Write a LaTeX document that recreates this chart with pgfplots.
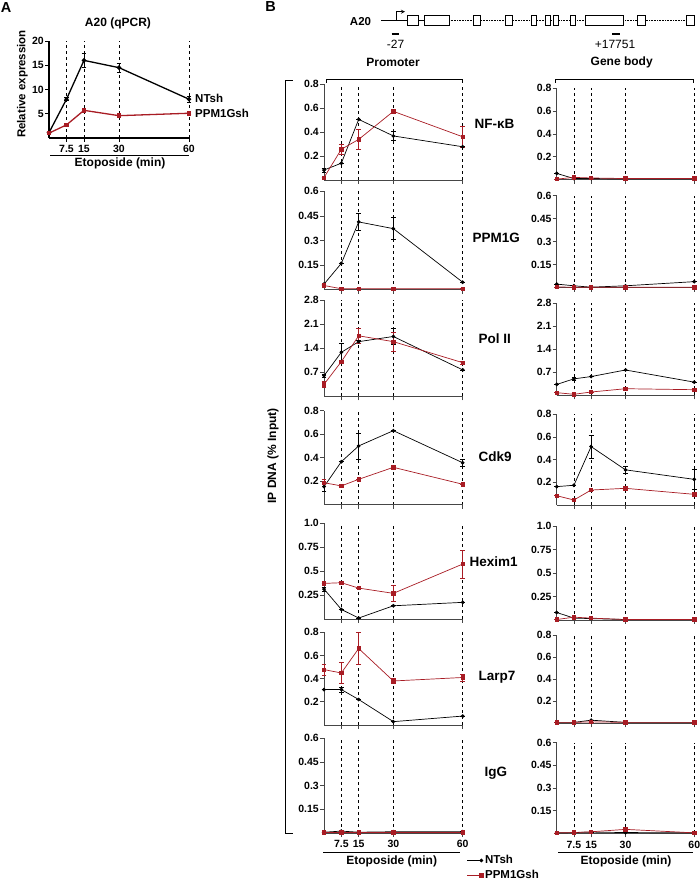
\documentclass[border=0pt]{standalone}
\usepackage{pgfplots}
\pgfplotsset{compat=1.18}
\usepackage{fontspec}
\setmainfont{Liberation Sans}
\definecolor{myred}{RGB}{168,28,36}
\definecolor{axgray}{RGB}{70,70,70}
\newcommand{\fs}[1]{\fontsize{#1}{#1}\selectfont}
\pgfplotsset{
  base/.style={
    scale only axis, clip=false,
    axis lines=left, axis line style={-, line width=0.9pt, axgray},
    xmin=0, xmax=60, ymin=0,
    xtick={7.5,15,30,60},
    tick align=outside, major tick length=4pt,
    tick style={line width=0.7pt, axgray},
    xmajorgrids, major x grid style={dashed, black, line width=0.45pt},
    /pgf/number format/assume math mode=true,
    tick label style={font=\fs{10.5}\bfseries},
    yticklabel style={inner sep=1pt},
    xticklabels={},
  },
  bk/.style={black, line width=0.7pt, mark=*, mark size=1.5pt,
    error bars/y dir=both, error bars/y explicit,
    error bars/error bar style={line width=0.6pt, solid},
    error bars/error mark options={rotate=90, mark size=2.4pt, line width=0.6pt}},
  rd/.style={myred, line width=0.7pt, mark=square*, mark size=1.7pt,
    error bars/y dir=both, error bars/y explicit,
    error bars/error bar style={line width=0.6pt, solid},
    error bars/error mark options={rotate=90, mark size=2.4pt, line width=0.6pt}},
}
\begin{document}
\begin{tikzpicture}[x=1pt,y=1pt]
\path[use as bounding box] (0,0) rectangle (700,882);

% ---------------- Panel A ----------------
\begin{axis}[base, at={(49pt,744pt)}, anchor=south west, width=140pt, height=97pt,
  ymax=20, ytick={5,10,15,20}, xticklabels={7.5,15,30,60},
  axis line style={-, line width=1.1pt, black}, tick style={line width=0.9pt, black}]
\addplot[bk, line width=1.3pt] table[x index=0, y index=1, y error index=2] {
0 1.1 0.2
7.5 8.0 0.3
15 16.0 1.5
30 14.5 0.9
60 8.0 0.6
};
\addplot[rd, line width=1.3pt] table[x index=0, y index=1, y error index=2] {
0 1.0 0.1
7.5 2.7 0.1
15 5.7 0.2
30 4.6 0.2
60 5.1 0.2
};
\end{axis}
\node[font=\fs{14.5}\bfseries] at (6,874) {A};
\node[font=\fs{12}\bfseries] at (118,859) {A20 (qPCR)};
\node[font=\fs{11.5}\bfseries, rotate=90] at (22.5,798) {Relative expression};
\node[font=\fs{11.5}\bfseries, anchor=west, inner sep=0] at (195,784) {NTsh};
\node[font=\fs{11.5}\bfseries, anchor=west, inner sep=0] at (195,769) {PPM1Gsh};
\draw[line width=0.9pt] (50,727) -- (189,727);
\node[font=\fs{12}\bfseries] at (120,718.7) {Etoposide (min)};

% ---------------- Panel B schematic ----------------
\node[font=\fs{14.5}\bfseries] at (270.5,875) {B};
\node[font=\fs{11.5}\bfseries] at (360.5,860.6) {A20};
\draw[line width=0.8pt] (381,861.3) -- (407.7,861.3);
\draw[line width=0.8pt] (418.3,861.3) -- (424.3,861.3);
\draw[line width=0.6pt, densely dotted] (449,861.3) -- (686.7,861.3);
\foreach \a/\b in {407.7/418.3, 424.3/449, 473.3/480.7, 505/512.7, 531/536, 545/550, 553.3/558.3, 570.7/575, 585/623.3, 637.3/645, 686.7/694}
  \draw[line width=0.7pt, fill=white] (\a,856.3) rectangle (\b,866.3);
\draw[line width=0.8pt, -stealth] (396.7,861.3) -- (396.7,870.3) -- (405,870.3);
\draw[line width=2.2pt] (391.7,847.7) -- (399.3,847.7);
\draw[line width=2.2pt] (612,847.7) -- (620,847.7);
\node[font=\fs{12}] at (395.5,838) {-27};
\node[font=\fs{12}] at (615,838) {+17751};
\node[font=\fs{12}\bfseries] at (393,819.5) {Promoter};
\node[font=\fs{12}\bfseries] at (621.7,819.5) {Gene body};
\draw[line width=0.8pt] (326.7,799.3) -- (326.7,803) -- (462.7,803) -- (462.7,799.3);
\draw[line width=0.8pt] (555.7,799.3) -- (555.7,803) -- (693.3,803) -- (693.3,799.3);
\draw[line width=0.9pt] (292.7,802) -- (285,802) -- (285,48.7) -- (292.7,48.7);
\node[font=\fs{12}\bfseries, rotate=90] at (273,426) {IP DNA (\% Input)};

% ---------------- Row 1: NF-kB ----------------
\begin{axis}[base, at={(324pt,702pt)}, anchor=south west, width=138.7pt, height=96pt,
  ymax=0.8, ytick={0.2,0.4,0.6,0.8}]
\addplot[bk] table[x index=0, y index=1, y error index=2] {
0 0.083 0.015
7.5 0.14 0
15 0.505 0
30 0.367 0.035
60 0.277 0
};
\addplot[rd] table[x index=0, y index=1, y error index=2] {
0 0.02 0
7.5 0.256 0.04
15 0.338 0.085
30 0.572 0.012
60 0.36 0.085
};
\end{axis}
\begin{axis}[base, at={(556.7pt,702.3pt)}, anchor=south west, width=137.6pt, height=91.4pt,
  ymax=0.8, ytick={0.2,0.4,0.6,0.8}]
\addplot[bk] table[x index=0, y index=1, y error index=2] {
0 0.055 0
7.5 0.01 0
15 0.01 0
30 0.008 0
60 0.008 0
};
\addplot[rd] table[x index=0, y index=1, y error index=2] {
0 0.005 0
7.5 0.02 0
15 0.015 0
30 0.01 0
60 0.01 0
};
\end{axis}

% ---------------- Row 2: PPM1G ----------------
\begin{axis}[base, at={(324pt,592.4pt)}, anchor=south west, width=138.7pt, height=98.3pt,
  ymax=0.6, ytick={0.15,0.3,0.45,0.6}]
\addplot[bk] table[x index=0, y index=1, y error index=2] {
0 0.033 0
7.5 0.16 0
15 0.413 0.05
30 0.372 0.068
60 0.045 0
};
\addplot[rd] table[x index=0, y index=1, y error index=2] {
0 0.025 0
7.5 0.005 0
15 0.006 0
30 0.005 0
60 0.005 0
};
\end{axis}
\begin{axis}[base, at={(556.7pt,594.2pt)}, anchor=south west, width=137.6pt, height=92.1pt,
  ymax=0.6, ytick={0.15,0.3,0.45,0.6}]
\addplot[bk] table[x index=0, y index=1, y error index=2] {
0 0.024 0
7.5 0.013 0
15 0.004 0
30 0.013 0
60 0.04 0
};
\addplot[rd] table[x index=0, y index=1, y error index=2] {
0 0.006 0
7.5 0.003 0
15 0.003 0
30 0.003 0
60 0.003 0
};
\end{axis}

% ---------------- Row 3: Pol II ----------------
\begin{axis}[base, at={(324pt,485.6pt)}, anchor=south west, width=138.7pt, height=96.4pt,
  ymax=2.8, ytick={0.7,1.4,2.1,2.8}]
\addplot[bk] table[x index=0, y index=1, y error index=2] {
0 0.6 0.05
7.5 1.28 0.27
15 1.59 0.05
30 1.74 0.24
60 0.77 0
};
\addplot[rd] table[x index=0, y index=1, y error index=2] {
0 0.35 0.1
7.5 1.01 0.05
15 1.76 0.22
30 1.59 0.28
60 0.98 0.05
};
\end{axis}
\begin{axis}[base, at={(556.7pt,486.7pt)}, anchor=south west, width=137.6pt, height=92pt,
  ymax=2.8, ytick={0.7,1.4,2.1,2.8}]
\addplot[bk] table[x index=0, y index=1, y error index=2] {
0 0.33 0
7.5 0.5 0.05
15 0.57 0
30 0.77 0
60 0.4 0
};
\addplot[rd] table[x index=0, y index=1, y error index=2] {
0 0.08 0
7.5 0.03 0
15 0.1 0
30 0.2 0
60 0.17 0
};
\end{axis}

% ---------------- Row 4: Cdk9 ----------------
\begin{axis}[base, at={(324pt,377.3pt)}, anchor=south west, width=138.7pt, height=94pt,
  ymax=0.8, ytick={0.2,0.4,0.6,0.8}]
\addplot[bk] table[x index=0, y index=1, y error index=2] {
0 0.153 0.04
7.5 0.366 0
15 0.50 0.11
30 0.63 0
60 0.357 0.03
};
\addplot[rd] table[x index=0, y index=1, y error index=2] {
0 0.187 0.03
7.5 0.16 0
15 0.216 0
30 0.318 0
60 0.174 0
};
\end{axis}
\begin{axis}[base, at={(556.7pt,377pt)}, anchor=south west, width=137.6pt, height=90.7pt,
  ymax=0.8, ytick={0.2,0.4,0.6,0.8}]
\addplot[bk] table[x index=0, y index=1, y error index=2] {
0 0.162 0
7.5 0.174 0
15 0.515 0.1
30 0.31 0.03
60 0.226 0.09
};
\addplot[rd] table[x index=0, y index=1, y error index=2] {
0 0.082 0
7.5 0.044 0
15 0.132 0
30 0.147 0
60 0.094 0
};
\end{axis}

% ---------------- Row 5: Hexim1 ----------------
\begin{axis}[base, at={(324pt,263pt)}, anchor=south west, width=138.7pt, height=95.7pt,
  ymax=1.0, ytick={0.25,0.5,0.75,1.0}, yticklabels={0.25,0.5,0.75,1.0}]
\addplot[bk] table[x index=0, y index=1, y error index=2] {
0 0.313 0.02
7.5 0.1 0
15 0.01 0
30 0.138 0
60 0.174 0
};
\addplot[rd] table[x index=0, y index=1, y error index=2] {
0 0.372 0
7.5 0.379 0
15 0.323 0
30 0.268 0.08
60 0.574 0.145
};
\end{axis}
\begin{axis}[base, at={(556.7pt,262pt)}, anchor=south west, width=137.6pt, height=94pt,
  ymax=1.0, ytick={0.25,0.5,0.75,1.0}, yticklabels={0.25,0.5,0.75,1.0}]
\addplot[bk] table[x index=0, y index=1, y error index=2] {
0 0.08 0
7.5 0.02 0
15 0.015 0
30 0.005 0
60 0.005 0
};
\addplot[rd] table[x index=0, y index=1, y error index=2] {
0 0.005 0
7.5 0.03 0
15 0.02 0
30 0.005 0
60 0.005 0
};
\end{axis}

% ---------------- Row 6: Larp7 ----------------
\begin{axis}[base, at={(324pt,157pt)}, anchor=south west, width=138.7pt, height=92.7pt,
  ymax=0.8, ytick={0.2,0.4,0.6,0.8}]
\addplot[bk] table[x index=0, y index=1, y error index=2] {
0 0.306 0
7.5 0.306 0.02
15 0.22 0
30 0.029 0
60 0.077 0
};
\addplot[rd] table[x index=0, y index=1, y error index=2] {
0 0.478 0.05
7.5 0.449 0.09
15 0.66 0.14
30 0.38 0.02
60 0.41 0.03
};
\end{axis}
\begin{axis}[base, at={(556.7pt,158.5pt)}, anchor=south west, width=137.6pt, height=88.5pt,
  ymax=0.8, ytick={0.2,0.4,0.6,0.8}]
\addplot[bk] table[x index=0, y index=1, y error index=2] {
0 0.01 0
7.5 0.01 0
15 0.03 0
30 0.01 0
60 0.01 0
};
\addplot[rd] table[x index=0, y index=1, y error index=2] {
0 0.01 0
7.5 0.01 0
15 0.015 0
30 0.01 0
60 0.01 0
};
\end{axis}

% ---------------- Row 7: IgG ----------------
\begin{axis}[base, at={(324pt,49pt)}, anchor=south west, width=138.7pt, height=94.7pt,
  ymax=0.6, ytick={0.15,0.3,0.45,0.6}, xticklabels={7.5,15,30,60},
  legend style={at={(1.03,-0.215)}, anchor=north west, draw=none, fill=none,
    font=\fs{11.5}\bfseries, row sep=1pt, inner sep=0pt},
  legend cell align=left,
  legend image code/.code={\draw[#1, mark repeat=2, mark phase=2] plot coordinates {(0pt,0pt) (14pt,0pt)};}]
\addplot[bk] table[x index=0, y index=1, y error index=2] {
0 0.005 0
7.5 0.012 0
15 0.005 0
30 0.008 0
60 0.008 0
};
\addlegendentry{NTsh}
\addplot[rd] table[x index=0, y index=1, y error index=2] {
0 0.003 0
7.5 0.003 0
15 0.003 0
30 0.003 0
60 0.003 0
};
\addlegendentry{PPM1Gsh}
\end{axis}
\begin{axis}[base, at={(556.7pt,48.7pt)}, anchor=south west, width=137.6pt, height=90.6pt,
  ymax=0.6, ytick={0.15,0.3,0.45,0.6}, xticklabels={7.5,15,30,60}]
\addplot[bk] table[x index=0, y index=1, y error index=2] {
0 0.003 0
7.5 0.005 0
15 0.008 0
30 0.005 0
60 0.003 0
};
\addplot[rd] table[x index=0, y index=1, y error index=2] {
0 0.003 0
7.5 0.005 0
15 0.01 0
30 0.026 0
60 0.003 0
};
\end{axis}

% row labels
\node[font=\fs{13.5}\bfseries, anchor=west] at (471,758) {NF-κB};
\node[font=\fs{13.5}\bfseries, anchor=west] at (469,644) {PPM1G};
\node[font=\fs{13.5}\bfseries, anchor=west] at (475,543) {Pol II};
\node[font=\fs{13.5}\bfseries, anchor=west] at (475,425) {Cdk9};
\node[font=\fs{13.5}\bfseries, anchor=west] at (466,320) {Hexim1};
\node[font=\fs{13.5}\bfseries, anchor=west] at (475,205) {Larp7};
\node[font=\fs{13.5}\bfseries, anchor=west] at (481,109) {IgG};

% bottom x labels
\draw[line width=0.9pt] (323,30) -- (460,30);
\node[font=\fs{12}\bfseries] at (391.7,21) {Etoposide (min)};
\draw[line width=0.9pt] (558,30) -- (693,30);
\node[font=\fs{12}\bfseries] at (626,21) {Etoposide (min)};
\end{tikzpicture}
\end{document}
